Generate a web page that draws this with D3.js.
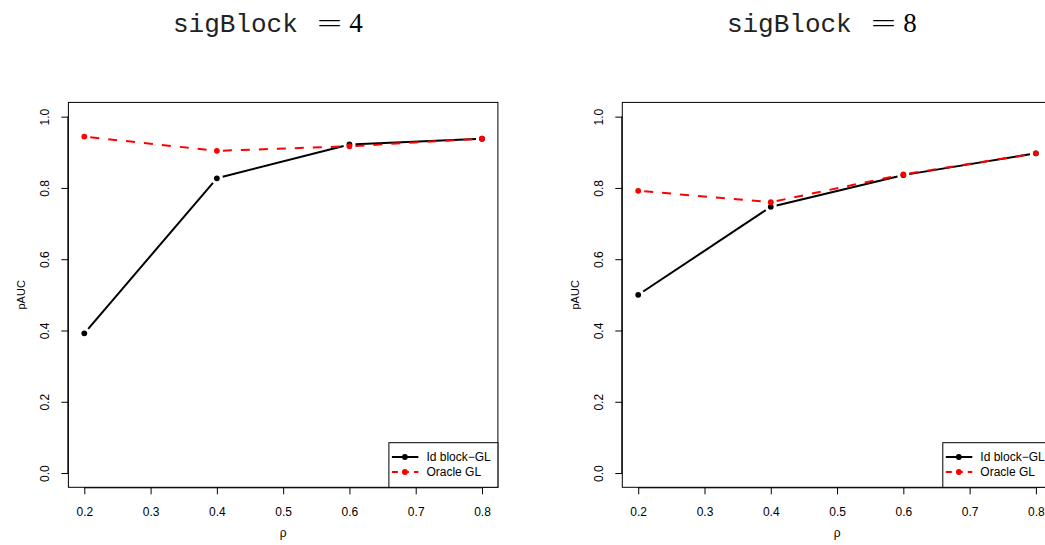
<!DOCTYPE html>
<html>
<head>
<meta charset="utf-8">
<script src="https://cdn.jsdelivr.net/npm/d3@7"></script>
<style>
  html, body { margin: 0; padding: 0; background: #fff; }
  svg { display: block; }
  text { font-family: "Liberation Sans", Arial, sans-serif; fill: #000; }
</style>
</head>
<body>
<svg id="chart" width="1045" height="545"></svg>
<script>
// correlation levels on the x axis
const rho = [0.2, 0.4, 0.6, 0.8];
const xTicks = [0.2, 0.3, 0.4, 0.5, 0.6, 0.7, 0.8];
const yTicks = [0.0, 0.2, 0.4, 0.6, 0.8, 1.0];

// panel titles (signal block size)
const sigBlocks = [4, 8];

// pAUC, sigBlock = 4
const idBlock4 = [0.392, 0.827, 0.922, 0.938];
const oracle4  = [0.944, 0.904, 0.917, 0.938];

// pAUC, sigBlock = 8
const idBlock8 = [0.500, 0.747, 0.836, 0.897];
const oracle8  = [0.792, 0.760, 0.838, 0.897];

const seriesNames = ["Id block\u2212GL", "Oracle GL"];

const panels = [
  { sig: sigBlocks[0], series: [idBlock4, oracle4], left: 68.4 },
  { sig: sigBlocks[1], series: [idBlock8, oracle8], left: 622.3 }
];

const styles = [
  { color: "#000000", dash: null },
  { color: "#ff0000", dash: "9,9" }
];

const svg = d3.select("#chart");
const plotW = 429.5, plotTop = 102.4, plotBottom = 487.3;
const gapR = 6;   // gap between line segments and point markers

panels.forEach(p => {
  const x = d3.scaleLinear().domain([0.176, 0.824]).range([p.left, p.left + plotW]);
  const y = d3.scaleLinear().domain([-0.04, 1.04]).range([plotBottom, plotTop]);
  const g = svg.append("g");

  // title: monospace variable name, math-style "= n"
  const tx = p.left + 104.6, ty = 32;
  g.append("text").attr("x", tx).attr("y", ty)
    .style("font-family", "'Liberation Mono', 'Courier New', monospace")
    .style("font-size", "26px").style("fill", "#222")
    .text("sigBlock");
  g.append("text")
    .attr("transform", `translate(${tx + 156.5},${ty}) scale(1.7,1)`)
    .attr("text-anchor", "middle")
    .style("font-family", "'Liberation Serif', 'Times New Roman', serif")
    .style("font-size", "26px")
    .text("=");
  g.append("text").attr("x", tx + 183).attr("y", ty)
    .attr("text-anchor", "middle")
    .style("font-family", "'Liberation Serif', 'Times New Roman', serif")
    .style("font-size", "27px")
    .text(p.sig);

  // x axis
  const xAxis = d3.axisBottom(x).tickValues(xTicks).tickSize(7).tickPadding(13)
    .tickFormat(d3.format(".1f"));
  const gx = g.append("g").attr("transform", `translate(0,${plotBottom})`).call(xAxis);
  gx.select(".domain").attr("d", `M${x(0.2)},0.5H${x(0.8)}`).attr("stroke", "#000");
  gx.selectAll("text").style("font-size", "12px").style("font-family", "'Liberation Sans', Arial, sans-serif");

  // y axis with rotated labels
  const yAxis = d3.axisLeft(y).tickValues(yTicks).tickSize(7).tickFormat(d3.format(".1f"));
  const gy = g.append("g").attr("transform", `translate(${p.left},0)`).call(yAxis);
  gy.select(".domain").attr("d", `M-0.5,${y(0)}V${y(1)}`).attr("stroke", "#000");
  gy.selectAll(".tick text")
    .attr("x", null).attr("dy", null)
    .attr("transform", "translate(-23.5,0) rotate(-90)")
    .attr("text-anchor", "middle")
    .attr("dy", "0.35em")
    .style("font-size", "12px").style("font-family", "'Liberation Sans', Arial, sans-serif");

  // plot frame
  g.append("rect")
    .attr("x", p.left).attr("y", plotTop)
    .attr("width", plotW).attr("height", plotBottom - plotTop)
    .attr("fill", "none").attr("stroke", "#000").attr("stroke-width", 1);

  // axis titles
  g.append("text")
    .attr("transform", `translate(${p.left - 47},${(plotTop + plotBottom) / 2}) rotate(-90)`)
    .attr("text-anchor", "middle").attr("dy", "0.35em")
    .style("font-size", "11px").text("pAUC");
  g.append("text")
    .attr("x", p.left + plotW / 2).attr("y", 536.5)
    .attr("text-anchor", "middle")
    .style("font-size", "12px").text("\u03c1");

  // series: segments with small gaps around markers, then markers
  p.series.forEach((vals, si) => {
    const st = styles[si];
    const pts = rho.map((r, i) => [x(r), y(vals[i])]);
    for (let i = 0; i < pts.length - 1; i++) {
      const [x0, y0] = pts[i], [x1, y1] = pts[i + 1];
      const L = Math.hypot(x1 - x0, y1 - y0);
      if (L <= 2 * gapR) continue;
      const ux = (x1 - x0) / L, uy = (y1 - y0) / L;
      g.append("line")
        .attr("x1", x0 + ux * gapR).attr("y1", y0 + uy * gapR)
        .attr("x2", x1 - ux * gapR).attr("y2", y1 - uy * gapR)
        .attr("stroke", st.color).attr("stroke-width", 2)
        .attr("stroke-dasharray", st.dash);
    }
    g.selectAll(null).data(rho).enter().append("circle")
      .attr("cx", (d, i) => x(d)).attr("cy", (d, i) => y(vals[i]))
      .attr("r", 2.9).attr("fill", st.color);
  });

  // legend in bottom-right corner
  const lgW = 109, lgH = 44.6;
  const lx = p.left + plotW - lgW, ly = plotBottom - lgH;
  const lg = g.append("g");
  lg.append("rect").attr("x", lx).attr("y", ly).attr("width", lgW).attr("height", lgH)
    .attr("fill", "#fff").attr("stroke", "#000").attr("stroke-width", 1);
  seriesNames.forEach((name, i) => {
    const st = styles[i];
    const yy = ly + 14.3 + i * 15;
    lg.append("line").attr("x1", lx + 3).attr("x2", lx + 29.5).attr("y1", yy).attr("y2", yy)
      .attr("stroke", st.color).attr("stroke-width", 2).attr("stroke-dasharray", st.dash ? "6,5" : null);
    lg.append("circle").attr("cx", lx + 16).attr("cy", yy).attr("r", 2.9).attr("fill", st.color);
    lg.append("text").attr("x", lx + 37.5).attr("y", yy).attr("dy", "0.35em")
      .style("font-size", "12px").text(name);
  });
});
</script>
</body>
</html>
